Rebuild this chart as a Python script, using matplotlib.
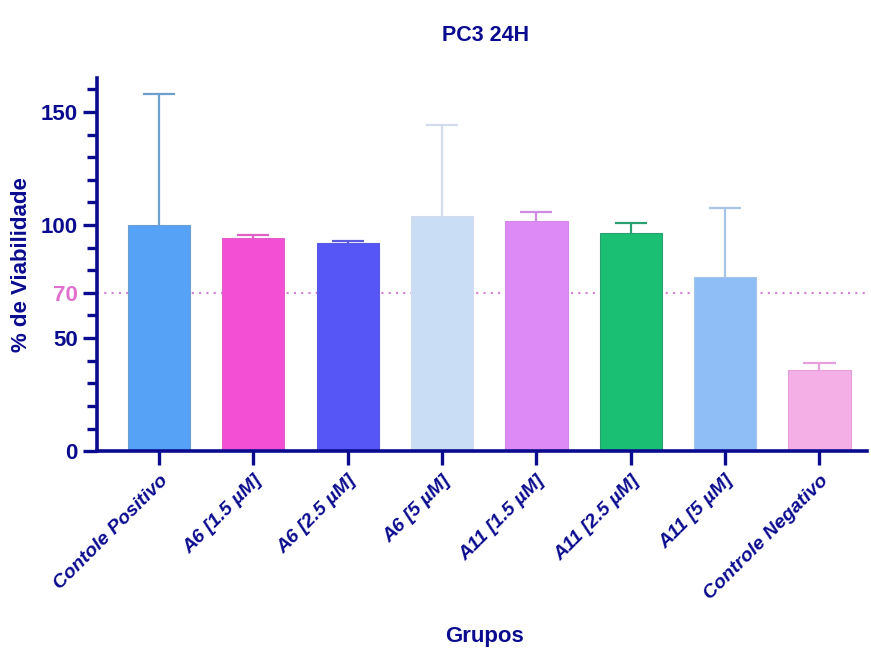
import matplotlib.pyplot as plt
import numpy as np
from matplotlib.ticker import MultipleLocator

plt.rcParams['font.family'] = ['Liberation Sans', 'DejaVu Sans']

# Viability data (% of control), mean and upper SD
grupos = ['Contole Positivo', 'A6 [1.5 µM]', 'A6 [2.5 µM]', 'A6 [5 µM]',
          'A11 [1.5 µM]', 'A11 [2.5 µM]', 'A11 [5 µM]', 'Controle Negativo']
media = [100.0, 94.2, 92.2, 103.8, 101.6, 96.7, 77.2, 35.8]
desvio = [57.8, 1.5, 0.8, 40.4, 4.4, 4.4, 30.3, 3.2]
limite = 70

cores = ['#55a2f7', '#f34fd5', '#5656f6', '#c9ddf5',
         '#dd8af6', '#1bbf74', '#8fbdf6', '#f4afe6']
cores_erro = ['#6d9fcc', '#e060c8', '#5a5ae0', '#d3dbee',
              '#d08ae6', '#2aa070', '#a5c5e6', '#e8a0dc']
navy = '#0b0b8f'

fig = plt.figure(figsize=(8.71, 6.51), dpi=100)
ax = fig.add_axes([0.111, 0.307, 0.884, 0.573])

x = np.arange(len(grupos))
ax.bar(x, media, width=0.66, color=cores, edgecolor=cores_erro, linewidth=0.8, zorder=2)

# upper-only error bars
topo = np.array(media) + np.array(desvio)
ax.vlines(x, media, topo, colors=cores_erro, linewidth=1.6, zorder=3)
ax.hlines(topo, x - 0.17, x + 0.17, colors=cores_erro, linewidth=1.6, zorder=3)

ax.axhline(limite, color='#d77fd6', linestyle=(0, (1, 2.5)), linewidth=1.5, zorder=1)

ax.set_xlim(-0.66, 7.5)
ax.set_ylim(0, 165)

for s in ['top', 'right']:
    ax.spines[s].set_visible(False)
for s in ['left', 'bottom']:
    ax.spines[s].set_color(navy)
    ax.spines[s].set_linewidth(2.6)

ax.set_yticks([0, 50, 70, 100, 150])
ax.yaxis.set_minor_locator(MultipleLocator(10))
ax.tick_params(axis='y', which='major', length=10, width=2.4, color=navy,
               labelcolor=navy, labelsize=16)
ax.tick_params(axis='y', which='minor', length=7, width=2.4, color=navy)
for lbl in ax.get_yticklabels():
    lbl.set_fontweight('bold')
    if lbl.get_text() == '70':
        lbl.set_color('#e070cc')

ax.set_xticks(x)
ax.set_xticklabels(grupos, rotation=45, ha='right', rotation_mode='anchor',
                   fontsize=14, fontweight='bold', fontstyle='italic', color=navy)
ax.tick_params(axis='x', length=10, width=2.4, color=navy, pad=5)

ax.set_ylabel('% de Viabilidade', fontsize=16, fontweight='bold', color=navy, labelpad=6)
ax.set_xlabel('Grupos', fontsize=16, fontweight='bold', color=navy)
ax.xaxis.set_label_coords(0.504, -0.47)
fig.text(0.557, 0.945, 'PC3 24H', ha='center', va='center',
         fontsize=15.5, fontweight='bold', color=navy)

fig.savefig('out.png', dpi=100)
